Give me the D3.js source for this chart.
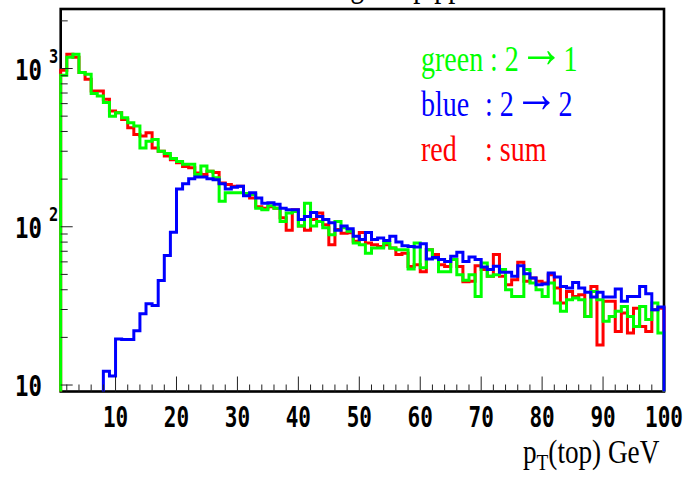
<!DOCTYPE html>
<html>
<head>
<meta charset="utf-8">
<script src="https://cdn.jsdelivr.net/npm/d3@7"></script>
<style>
  html, body { margin: 0; padding: 0; background: #fff; }
  svg { display: block; }
</style>
</head>
<body>
<svg id="chart" width="692" height="482"></svg>
<script>
// pT(top) histograms, 1 GeV bins from 1 to 100 GeV
const binEdgesStart = 1;
const binEdgesEnd = 100;

// red : sum
const sumCounts = [
  976, 1230, 1179, 944, 855, 720, 720, 639, 539, 526,
  477, 423, 383, 374, 393, 315, 300, 280, 265, 254,
  240, 236, 219, 214, 224, 220, 189, 185, 180, 180,
  162, 152, 134, 131, 134, 131, 114, 95, 128, 101,
  95, 111, 122, 103, 77, 96, 91, 91.5, 81, 92,
  79, 77, 75, 77, 73.5, 66.7, 68, 56, 57.6, 52,
  71.6, 66.7, 57.6, 56, 62, 56, 45, 45.2, 56.8, 53.6,
  48.6, 66.7, 48.6, 43, 46.3, 59.6, 45.2, 47.4, 45.2, 44.1,
  49.7, 41, 33, 39, 36.3, 37.2, 27.1, 42, 17.9, 33.8,
  33.8, 21.8, 28.5, 21.3, 30.6, 23.4, 21.8, 29.9, 30.6
];

// green : 2 -> 1
const twoToOneCounts = [
  908, 1179, 1230, 944, 921, 694, 670, 609, 500, 526,
  489, 455, 433, 315, 347, 356, 300, 290, 270, 258,
  248, 248, 214, 242, 224, 204, 145, 164, 164, 164,
  162, 160, 131, 128, 136, 131, 108, 122, 125, 101,
  141, 101, 108, 98.5, 89, 108, 98.5, 93.6, 79, 77,
  68, 73.5, 73.5, 79, 73.5, 71.6, 71.6, 54, 79, 55,
  71.6, 63.5, 52, 52, 62, 49.7, 46, 49.7, 36.3, 59,
  48.6, 49.7, 53.6, 40, 36.3, 36.3, 53.6, 44.1, 40, 36.3,
  44.1, 33, 29.2, 34.6, 35.5, 34.6, 27.1, 39, 34.6, 25.3,
  27.1, 29.2, 31.4, 27.1, 23.4, 31.4, 25.9, 33, 21.3
];

// blue : 2 -> 2
const twoToTwoCounts = [
  0, 0, 0, 0, 0, 0, 0, 12.2, 11.4, 19.5,
  19.4, 19.4, 22.0, 28.2, 32.6, 31.8, 45.8, 65.9, 92.3, 173,
  187, 201, 206, 206, 201, 198, 187, 173, 178, 180,
  157, 164, 152, 141, 142, 139, 131, 128, 128, 111,
  116, 123, 116, 111, 106, 95, 101, 97, 87, 83,
  92, 83, 85, 82, 87, 80, 76, 75, 74.5, 78,
  62.6, 64, 62, 60.4, 65, 69, 60.4, 64.4, 62, 55.7,
  53.6, 56.3, 51.5, 51.5, 48.6, 56.8, 50.5, 47.4, 43, 43.5,
  51, 48.2, 42, 41, 44.5, 41, 38.5, 36, 38.5, 36,
  36, 40.4, 33.8, 36.3, 36.3, 42, 37.7, 29.9, 31.1
];

const xTickValues = [10, 20, 30, 40, 50, 60, 70, 80, 90, 100];
const yDecades = [10, 100, 1000];
const yDecadeExponents = ["", "2", "3"];

// legend lines: name, process (initial -> final), or plain text
const legendNames = ["green", "blue", "red"];
const legendInitial = ["2", "2", null];
const legendFinal = ["1", "2", null];
const legendPlain = [null, null, "sum"];
const legendColors = ["#00ff00", "#0000ff", "#ff0000"];

const titleText = "Single top pp";

// ---------------------------------------------------------------
const svg = d3.select("#chart");

const frameLeft = 60.7, frameRight = 664, frameTop = 9, frameBottom = 391.5;

const x = d3.scaleLinear().domain([binEdgesStart, binEdgesEnd]).range([frameLeft, frameRight]);
const y = d3.scaleLog().domain([9.1, 2377]).range([frameBottom, frameTop]);

// clipped drawing area
svg.append("defs").append("clipPath").attr("id", "plotClip")
  .append("rect")
  .attr("x", frameLeft - 2).attr("y", frameTop)
  .attr("width", frameRight - frameLeft + 4).attr("height", frameBottom - frameTop);

const serif = "Liberation Serif, Times New Roman, serif";

// title (sits above the frame, mostly out of view)
svg.append("text")
  .attr("transform", `translate(313,-4) scale(0.8,1)`)
  .attr("font-family", serif)
  .attr("font-size", 35)
  .attr("fill", "#000")
  .text(titleText);

// frame
svg.append("rect")
  .attr("x", frameLeft).attr("y", frameTop)
  .attr("width", frameRight - frameLeft).attr("height", frameBottom - frameTop)
  .attr("fill", "none")
  .attr("stroke", "#000")
  .attr("stroke-width", 2.6);

// step outline of a histogram, dropping to the floor at both ends
function stepPoints(counts) {
  const floor = frameBottom + 8;
  const yv = v => (v > 0 ? y(v) : floor);
  const pts = [[x(binEdgesStart), floor]];
  counts.forEach((v, i) => {
    const lo = binEdgesStart + i, hi = lo + 1;
    pts.push([x(lo), yv(v)]);
    pts.push([x(hi), yv(v)]);
  });
  pts.push([x(binEdgesEnd), floor]);
  return pts;
}

const line = d3.line();
const hist = svg.append("g").attr("clip-path", "url(#plotClip)");

[[sumCounts, "#ff0000"], [twoToOneCounts, "#00ff00"], [twoToTwoCounts, "#0000ff"]]
  .forEach(([counts, color]) => {
    hist.append("path")
      .attr("d", line(stepPoints(counts)))
      .attr("fill", "none")
      .attr("stroke", color)
      .attr("stroke-width", 3)
      .attr("stroke-linejoin", "miter");
  });

// x ticks: minor every 2, major every 10, pointing into the frame
const ticks = svg.append("g").attr("stroke", "#222").attr("stroke-width", 1);
d3.range(2, 100, 2).forEach(v => {
  const major = v % 10 === 0;
  ticks.append("line")
    .attr("x1", x(v)).attr("x2", x(v))
    .attr("y1", frameBottom).attr("y2", frameBottom - (major ? 15 : 7));
});

// y ticks on the log scale
const yMinor = [];
[10, 100, 1000].forEach(d => {
  for (let k = 1; k <= 9; k++) {
    const v = d * k;
    if (v >= y.domain()[0] && v <= y.domain()[1]) yMinor.push(v);
  }
});
yMinor.forEach(v => {
  const major = yDecades.includes(v);
  ticks.append("line")
    .attr("x1", frameLeft).attr("x2", frameLeft + (major ? 12 : 7))
    .attr("y1", y(v)).attr("y2", y(v));
});

// x tick labels
const tickFont = "DejaVu Sans Mono, monospace";
xTickValues.forEach(v => {
  svg.append("text")
    .attr("transform", `translate(${x(v)},427) scale(0.75,1)`)
    .attr("text-anchor", "middle")
    .attr("font-family", tickFont)
    .attr("font-weight", "bold")
    .attr("font-size", 28)
    .attr("fill", "#000")
    .text(v);
});

// y tick labels as powers of ten
yDecades.forEach((v, i) => {
  const yy = y(v);
  svg.append("text")
    .attr("transform", `translate(15,${yy + 11}) scale(0.77,1)`)
    .attr("font-family", tickFont)
    .attr("font-weight", "bold")
    .attr("font-size", 29)
    .attr("fill", "#000")
    .text("10");
  if (yDecadeExponents[i]) {
    svg.append("text")
      .attr("transform", `translate(49,${yy - 6}) scale(0.77,1)`)
      .attr("font-family", tickFont)
      .attr("font-weight", "bold")
      .attr("font-size", 20)
      .attr("fill", "#000")
      .text(yDecadeExponents[i]);
  }
});

// legend
const legendBaselines = [71, 116, 161];
const processX = [490, 485, 485];
legendNames.forEach((name, i) => {
  svg.append("text")
    .attr("transform", `translate(421,${legendBaselines[i]}) scale(0.8,1)`)
    .attr("font-family", serif)
    .attr("font-size", 35)
    .attr("fill", legendColors[i])
    .text(name);
  const t = svg.append("text")
    .attr("transform", `translate(${processX[i]},${legendBaselines[i]}) scale(0.8,1)`)
    .attr("font-family", serif)
    .attr("font-size", 35)
    .attr("fill", legendColors[i])
    .attr("xml:space", "preserve");
  if (legendPlain[i]) {
    t.text(": " + legendPlain[i]);
  } else {
    t.append("tspan").text(": " + legendInitial[i]);
    t.append("tspan")
      .attr("font-size", 56)
      .attr("dy", -4)
      .text("\u2192");
    t.append("tspan").attr("dy", 4).text(legendFinal[i]);
  }
});

// x axis title
const xt = svg.append("text")
  .attr("transform", `translate(523,463) scale(0.8,1)`)
  .attr("font-family", serif)
  .attr("font-size", 34)
  .attr("fill", "#000");
xt.append("tspan").text("p");
xt.append("tspan").attr("dy", 7).attr("font-size", 24).text("T");
xt.append("tspan").attr("dy", -7).text("(top) GeV");
</script>
</body>
</html>
